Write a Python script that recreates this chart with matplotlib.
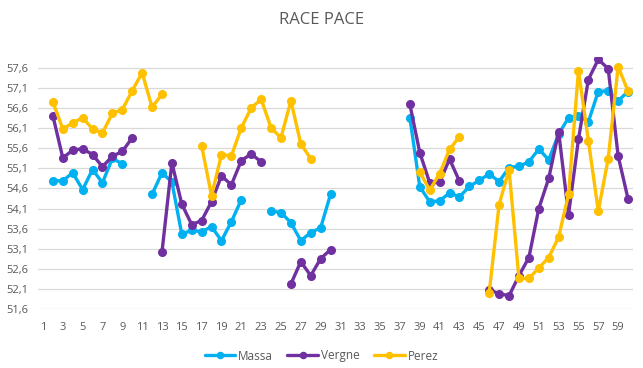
import numpy as np
import matplotlib
matplotlib.use("Agg")
import matplotlib.pyplot as plt
from matplotlib.ticker import FuncFormatter

N = np.nan
laps = list(range(1, 61))

massa = [N, 54.79, 54.79, 54.99, 54.57, 55.07, 54.74, 55.35, 55.21, N,
         N, 54.45, 54.99, 54.76, 53.46, 53.56, 53.52, 53.65, 53.30, 53.77,
         54.32, N, N, 54.04, 54.00, 53.75, 53.30, 53.50, 53.62, 54.45,
         N, N, N, N, N, N, N, 56.36, 54.64, 54.27,
         54.29, 54.49, 54.39, 54.65, 54.80, 54.96, 54.77, 55.12, 55.15, 55.26,
         55.58, 55.31, 55.95, 56.36, 56.41, 56.26, 57.01, 57.03, 56.78, 57.01]

vergne = [N, 56.41, 55.36, 55.55, 55.59, 55.44, 55.14, 55.40, 55.52, 55.86,
          N, N, 53.01, 55.24, 54.21, 53.70, 53.80, 54.27, 54.91, 54.69,
          55.29, 55.46, 55.26, N, N, 52.22, 52.78, 52.43, 52.85, 53.08,
          N, N, N, N, N, N, N, 56.69, 55.49, 54.74,
          54.75, 55.33, 54.78, N, N, 52.08, 51.98, 51.93, 52.43, 52.88,
          54.10, 54.85, 56.01, 53.95, 55.82, 57.31, 57.81, 57.58, 55.41, 54.34]

perez = [N, 56.75, 56.08, 56.23, 56.36, 56.08, 55.98, 56.47, 56.56, 57.03,
         57.48, 56.62, 56.94, N, N, N, 55.66, 54.42, 55.44, 55.41,
         56.11, 56.60, 56.82, 56.11, 55.86, 56.78, 55.71, 55.34, N, N,
         N, N, N, N, N, N, N, N, 55.01, 54.56,
         54.97, 55.57, 55.89, N, N, 52.01, 54.20, 55.07, 52.36, 52.36,
         52.62, 52.88, 53.39, 54.45, 57.53, 55.79, 54.04, 55.34, 57.63, 57.02]

series = [("Massa", massa, "#00B0F0"),
          ("Vergne", vergne, "#7030A0"),
          ("Perez", perez, "#FFC000")]

yticks = [51.6, 52.1, 52.6, 53.1, 53.6, 54.1, 54.6, 55.1, 55.6, 56.1, 56.6, 57.1, 57.6]
xtick_labels = [str(l) for l in laps if l % 2 == 1]

plt.rcParams['font.family'] = ['Open Sans', 'DejaVu Sans']
txt = "#595959"

fig = plt.figure(figsize=(6.43, 3.68), dpi=100)
ax = fig.add_axes([38/643, 59/368, 595/643, 252/368])

x = np.arange(len(laps))
for name, vals, col in series:
    ax.plot(x, vals, color=col, lw=2.4, marker='o', ms=5.5, label=name,
            solid_joinstyle='round', solid_capstyle='round')

ax.set_xlim(-0.5, len(laps) - 0.5)
ax.set_ylim(51.6, 57.87)
ax.set_yticks(yticks)
ax.yaxis.set_major_formatter(FuncFormatter(lambda v, p: f"{v:.1f}".replace(".", ",")))
ax.set_xticks([i for i, l in enumerate(laps) if l % 2 == 1])
ax.set_xticklabels(xtick_labels)
ax.grid(axis='y', color='#D9D9D9', lw=0.9)
ax.set_axisbelow(True)
for s in ax.spines.values():
    s.set_visible(False)
ax.tick_params(length=0, labelsize=8, colors=txt)
ax.tick_params(axis='x', pad=9)
ax.tick_params(axis='y', pad=7)

fig.text(0.5, 1 - 20/368, "RACE PACE", ha='center', va='center', fontsize=12, color=txt)
fig.legend(loc='center', bbox_to_anchor=(0.5, 1 - 356/368), ncol=3, frameon=False,
           fontsize=8.5, labelcolor=txt, handlelength=2.6, columnspacing=1.2,
           handletextpad=0.25, markerscale=0.8)

fig.savefig("out.png", dpi=100)
